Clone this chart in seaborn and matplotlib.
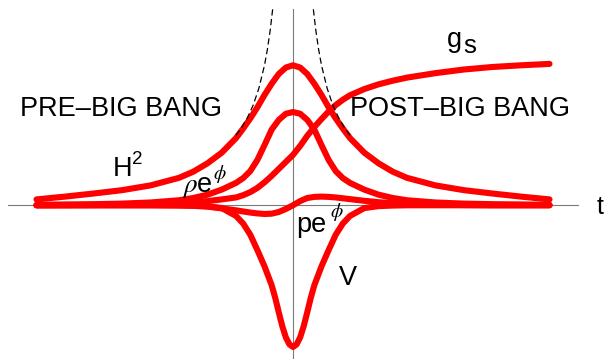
import matplotlib
matplotlib.use("Agg")
import matplotlib.pyplot as plt
import seaborn as sns

# ---- data ----
T = [-4.5, -4, -3.5, -3, -2.5, -2, -1.75, -1.5, -1.25, -1, -0.875, -0.75, -0.625, -0.5,
     -0.375, -0.25, -0.125, 0, 0.125, 0.25, 0.375, 0.5, 0.625, 0.75, 0.875, 1, 1.25,
     1.5, 1.75, 2, 2.5, 3, 3.5, 4, 4.5]

H2 = [0.21, 0.31, 0.42, 0.54, 0.71, 0.98, 1.2, 1.5, 1.88, 2.4, 2.74, 3.1, 3.5, 3.94,
      4.34, 4.69, 4.92, 5.0, 4.92, 4.69, 4.34, 3.94, 3.5, 3.1, 2.74, 2.4, 1.88,
      1.5, 1.2, 0.98, 0.71, 0.54, 0.42, 0.31, 0.21]

RHO = [0.02, 0.03, 0.04, 0.06, 0.1, 0.18, 0.26, 0.38, 0.56, 0.8, 0.97, 1.22, 1.62, 2.15,
       2.7, 3.05, 3.27, 3.33, 3.27, 3.05, 2.7, 2.15, 1.62, 1.22, 0.97, 0.8, 0.56,
       0.38, 0.26, 0.18, 0.1, 0.06, 0.04, 0.03, 0.02]

GS = [0.0, 0.005, 0.01, 0.02, 0.04, 0.08, 0.11, 0.15, 0.21, 0.28, 0.36, 0.47, 0.62, 0.82,
      1.05, 1.3, 1.55, 1.8, 2.12, 2.48, 2.8, 3.08, 3.35, 3.58, 3.77, 3.93, 4.15,
      4.32, 4.45, 4.56, 4.72, 4.85, 4.94, 5.0, 5.05]

PE = [0, 0, 0, 0, 0, -0.01, -0.02, -0.05, -0.11, -0.18, -0.22, -0.26, -0.29, -0.31,
      -0.3, -0.24, -0.13, 0.0, 0.15, 0.26, 0.3, 0.31, 0.3, 0.28, 0.25, 0.22, 0.16,
      0.11, 0.07, 0.05, 0.02, 0.01, 0, 0, 0]

T_V = [-4.5, -3, -2, -1.75, -1.5, -1.25, -1, -0.875, -0.75, -0.625, -0.5, -0.375,
       -0.3125, -0.25, -0.1875, -0.125, -0.0625, 0, 0.0625, 0.125, 0.1875, 0.25,
       0.3125, 0.375, 0.5, 0.625, 0.75, 0.875, 1, 1.25, 1.5, 1.75, 2, 3, 4.5]
V = [0, 0, 0, -0.01, -0.03, -0.1, -0.38, -0.65, -1.05, -1.6, -2.18, -2.85,
     -3.3, -3.82, -4.32, -4.72, -4.97, -5.06, -4.97, -4.72, -4.32, -3.82,
     -3.3, -2.85, -2.18, -1.6, -1.05, -0.65, -0.38, -0.1, -0.03, -0.01, 0, 0, 0]

DASH_T_LEFT = [-0.357, -0.4, -0.45, -0.5, -0.6, -0.7, -0.8, -0.9, -1.0]
DASH_T_RIGHT = [0.357, 0.4, 0.45, 0.5, 0.6, 0.7, 0.8, 0.9, 1.0]
DASH_Y = [7.0, 6.25, 5.56, 5.0, 4.17, 3.57, 3.13, 2.78, 2.5]

X_TICKS = [-5, -4, -3, -2, -1, 0, 1, 2, 3, 4, 5]
Y_TICKS = [-5, -4, -3, -2, -1, 0, 1, 2, 3, 4, 5, 6, 7]

# ---- style ----
sns.set_style("white")
plt.rcParams["font.family"] = ["Liberation Sans", "DejaVu Sans"]
plt.rcParams["mathtext.fontset"] = "stix"

fig = plt.figure(figsize=(6.05, 3.59), dpi=100)
ax = fig.add_axes([8 / 605, 0.0, 570 / 605, 349.7 / 359])
ax.set_xlim(-5, 5)
ax.set_ylim(-5.49, 7)

red = "#ff0000"
lw = 4.4
curves = [(T, H2), (T, RHO), (T, GS), (T, PE), (T_V, V)]
for xs, ys in curves:
    sns.lineplot(x=xs, y=ys, ax=ax, color=red, linewidth=lw, sort=False,
                 estimator=None, solid_capstyle="round", solid_joinstyle="round",
                 clip_on=False, zorder=3)

for dt in (DASH_T_LEFT, DASH_T_RIGHT):
    sns.lineplot(x=dt, y=DASH_Y, ax=ax, color="black", linewidth=0.9, sort=False,
                 estimator=None, dashes=False, clip_on=False, zorder=4)
for line in ax.lines[-2:]:
    line.set_dashes((5, 2.8))

# Mathematica-like crossing axes
for side in ("top", "right"):
    ax.spines[side].set_visible(False)
for side in ("left", "bottom"):
    ax.spines[side].set_position(("data", 0))
    ax.spines[side].set_color("#7a7a7a")
    ax.spines[side].set_linewidth(0.8)
    ax.spines[side].set_zorder(1)
ax.set_xticks(X_TICKS)
ax.set_yticks(Y_TICKS)
ax.set_xticklabels([])
ax.set_yticklabels([])
ax.tick_params(direction="in", length=3.0, width=0.8, color="#7a7a7a")
ax.set_xlabel("")
ax.set_ylabel("")
ax.grid(False)

fs = 19.5
tk = dict(fontsize=fs, color="black", ha="left", va="baseline", clip_on=False, zorder=5)
ax.text(-4.79, 3.196, "PRE\u2013BIG BANG", **tk)
ax.text(1.00, 3.196, "POST\u2013BIG BANG", **tk)
ax.text(-3.16, 1.054, "H", **tk)
ax.text(-2.83, 1.47, "2", fontsize=13.5, color="black", ha="left", va="baseline")
ax.text(-1.95, 0.457, r"$\rho$e", **tk)
ax.text(-1.41, 1.114, r"$\phi$", fontsize=14, color="black", ha="left", va="center")
ax.text(0.06, -0.971, "pe", **tk)
ax.text(0.65, -0.225, r"$\phi$", fontsize=14, color="black", ha="left", va="center")
ax.text(0.80, -2.85, "V", **tk)
ax.text(2.70, 5.66, "g", **tk)
ax.text(2.99, 5.43, "s", fontsize=18.5, color="black", ha="left", va="baseline")
ax.text(5.33, -0.314, "t", fontsize=18, color="black", ha="left", va="baseline", clip_on=False)

fig.savefig("out.png", dpi=100)
